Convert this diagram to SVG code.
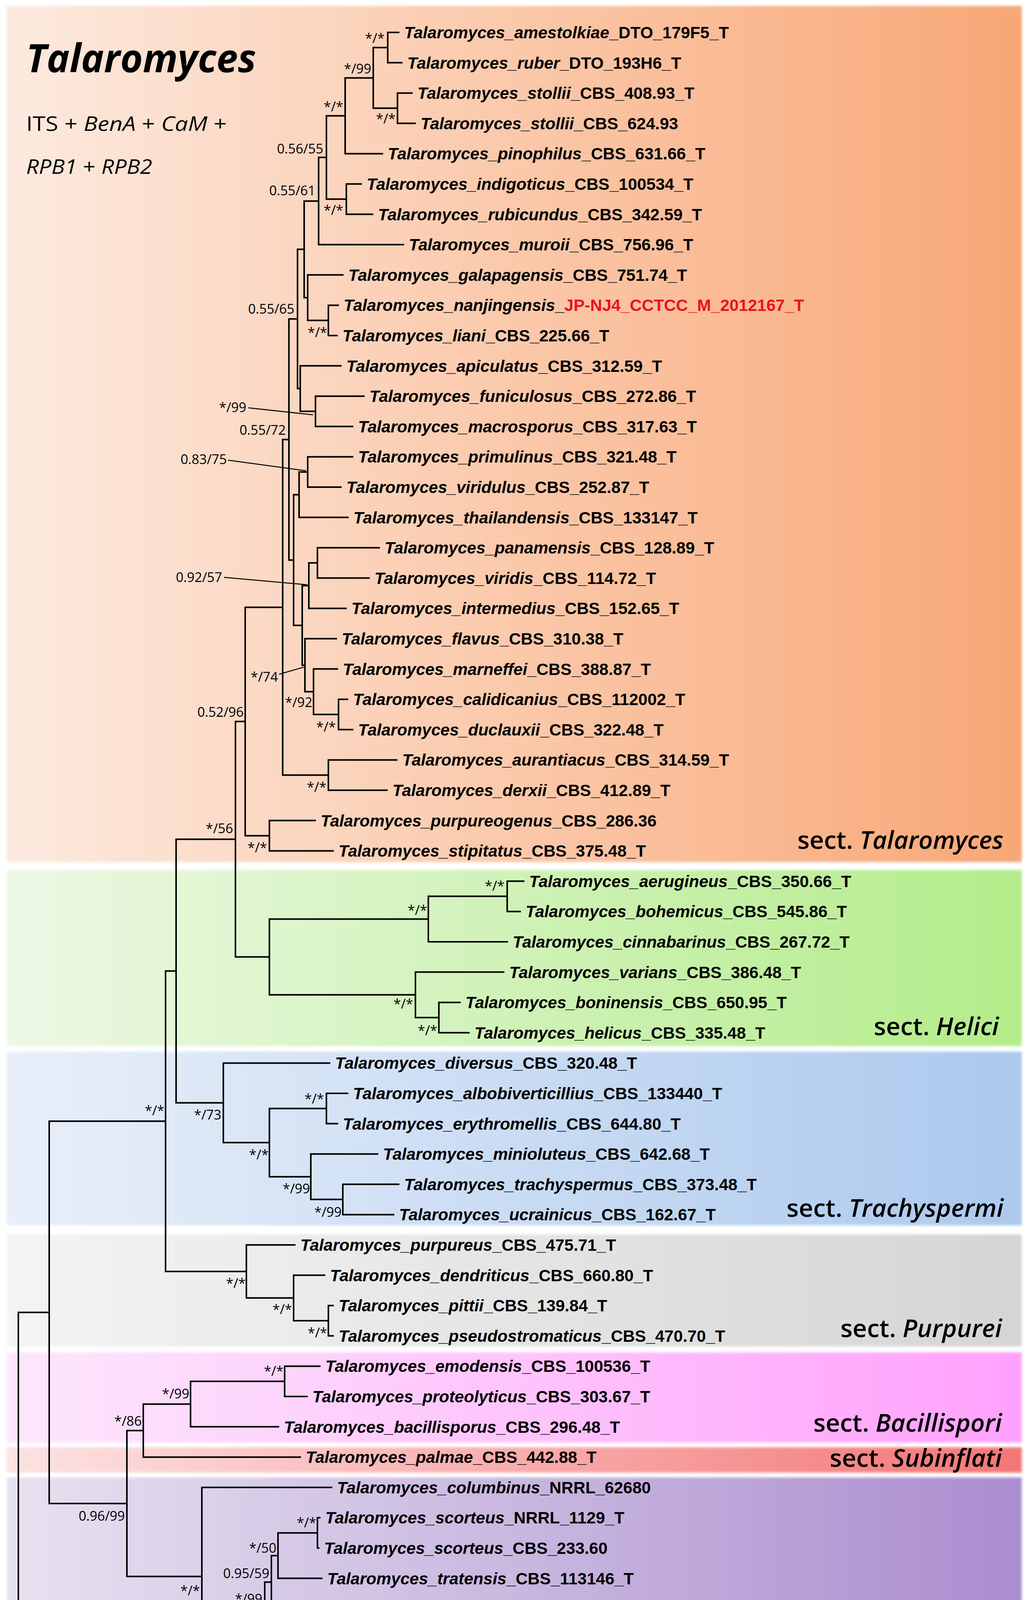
<svg xmlns="http://www.w3.org/2000/svg" width="2638" height="4954" viewBox="0 0 2638 4954">
<defs>
<linearGradient id="gTal" x1="0" y1="0" x2="1" y2="0"><stop offset="0" stop-color="#fdeadf"/><stop offset="1" stop-color="#f8a776"/></linearGradient>
<linearGradient id="gHel" x1="0" y1="0" x2="1" y2="0"><stop offset="0" stop-color="#edf8e5"/><stop offset="1" stop-color="#b3ec8a"/></linearGradient>
<linearGradient id="gTra" x1="0" y1="0" x2="1" y2="0"><stop offset="0" stop-color="#e9eff9"/><stop offset="1" stop-color="#abc9ee"/></linearGradient>
<linearGradient id="gPur" x1="0" y1="0" x2="1" y2="0"><stop offset="0" stop-color="#f4f4f4"/><stop offset="1" stop-color="#d5d5d5"/></linearGradient>
<linearGradient id="gBac" x1="0" y1="0" x2="1" y2="0"><stop offset="0" stop-color="#fde7fc"/><stop offset="1" stop-color="#ffa1fc"/></linearGradient>
<linearGradient id="gSub" x1="0" y1="0" x2="1" y2="0"><stop offset="0" stop-color="#fde3e3"/><stop offset="1" stop-color="#f47676"/></linearGradient>
<linearGradient id="gIsl" x1="0" y1="0" x2="1" y2="0"><stop offset="0" stop-color="#e7e2f0"/><stop offset="1" stop-color="#ab8dcf"/></linearGradient>
<filter id="soft" x="-0.01" y="-0.05" width="1.02" height="1.1"><feGaussianBlur stdDeviation="3"/></filter>
<style>
.br{stroke:#000;stroke-width:4;fill:none;stroke-linecap:square}
.ld{stroke:#000;stroke-width:2.5;fill:none}
.tip{font-family:"Liberation Sans",Arial,sans-serif;font-weight:bold;font-size:42.5px;fill:#000}
.sp{font-style:italic}
.red{fill:#e8141c}
.sup{font-family:"Open Sans","Liberation Sans",sans-serif;font-size:34px;fill:#000;text-anchor:end}
.sect{font-family:"Open Sans","Liberation Sans",sans-serif;font-size:64px;font-weight:600;fill:#000;text-anchor:end}
.it{font-style:italic}
</style>
</defs>
<rect width="2638" height="4954" fill="#fff"/>
<g id="sections" filter="url(#soft)">
<rect x="17" y="15" width="2600" height="2192" fill="url(#gTal)"/>
<rect x="17" y="2227" width="2600" height="451" fill="url(#gHel)"/>
<rect x="17" y="2692" width="2600" height="445" fill="url(#gTra)"/>
<rect x="17" y="3160" width="2600" height="287" fill="url(#gPur)"/>
<rect x="17" y="3462" width="2600" height="231" fill="url(#gBac)"/>
<rect x="17" y="3705" width="2600" height="65" fill="url(#gSub)"/>
<rect x="17" y="3782" width="2600" height="916" fill="url(#gIsl)"/>
</g>
<g id="section-labels">
<text class="sect" x="2570" y="2173">sect. <tspan class="it">Talaromyces</tspan></text>
<text class="sect" x="2558" y="2650">sect. <tspan class="it">Helici</tspan></text>
<text class="sect" x="2570" y="3115">sect. <tspan class="it">Trachyspermi</tspan></text>
<text class="sect" x="2566" y="3423">sect. <tspan class="it">Purpurei</tspan></text>
<text class="sect" x="2566" y="3665">sect. <tspan class="it">Bacillispori</tspan></text>
<text class="sect" x="2566" y="3755">sect. <tspan class="it">Subinflati</tspan></text>
<text class="sect" x="2553" y="4683">sect. <tspan class="it">Islandici</tspan></text>
</g>
<g id="title">
<text x="67" y="185" font-family="'Open Sans','Liberation Sans',sans-serif" font-size="100" font-weight="bold" font-style="italic" textLength="589" lengthAdjust="spacingAndGlyphs">Talaromyces</text>
<text x="67" y="335" font-family="'Open Sans','Liberation Sans',sans-serif" font-size="52" textLength="514" lengthAdjust="spacingAndGlyphs">ITS + <tspan class="it">BenA</tspan> + <tspan class="it">CaM</tspan> +</text>
<text x="67" y="445" font-family="'Open Sans','Liberation Sans',sans-serif" font-size="52" textLength="323" lengthAdjust="spacingAndGlyphs"><tspan class="it">RPB1</tspan> + <tspan class="it">RPB2</tspan></text>
</g>
<g id="connectors">
<path class="br" d="M993 83V160.6M993 83H1021M993 160.6H1029"/>
<path class="br" d="M1018 238.2V315.8M1018 238.2H1055M1018 315.8H1063"/>
<path class="br" d="M956 121.8V277M956 121.8H993M956 277H1018"/>
<path class="br" d="M884 199.4V393.4M884 199.4H956M884 393.4H979"/>
<path class="br" d="M887 471V548.6M887 471H925M887 548.6H954"/>
<path class="br" d="M836 296.4V509.8M836 296.4H884M836 509.8H887"/>
<path class="br" d="M816 403.1V626.2M816 403.1H836M816 626.2H1033"/>
<path class="br" d="M841 781.4V859M841 781.4H866M841 859H863"/>
<path class="br" d="M788 703.8V820.2M788 703.8H878M788 820.2H841"/>
<path class="br" d="M779 514.65V762M779 514.65H816M779 762H788"/>
<path class="br" d="M808 1014.2V1091.8M808 1014.2H932M808 1091.8H903"/>
<path class="br" d="M769 936.6V1053M769 936.6H873M769 1053H808"/>
<path class="br" d="M762 638.3V994.8M762 638.3H779M762 994.8H769"/>
<path class="br" d="M788 1169.4V1247M788 1169.4H903M788 1247H873"/>
<path class="br" d="M766 1208.2V1324.6M766 1208.2H788M766 1324.6H891"/>
<path class="br" d="M813 1402.2V1479.8M813 1402.2H971M813 1479.8H945"/>
<path class="br" d="M791 1441V1557.4M791 1441H813M791 1557.4H886"/>
<path class="br" d="M867 1790.2V1867.8M867 1790.2H890M867 1867.8H903"/>
<path class="br" d="M803 1712.6V1829M803 1712.6H864M803 1829H867"/>
<path class="br" d="M781 1635V1770.8M781 1635H861M781 1770.8H803"/>
<path class="br" d="M774 1499.2V1702.9M774 1499.2H791M774 1702.9H781"/>
<path class="br" d="M752 1266.4V1601.05M752 1266.4H766M752 1601.05H774"/>
<path class="br" d="M740 816.6V1433.7M740 816.6H762M740 1433.7H752"/>
<path class="br" d="M841 1945.4V2023M841 1945.4H1016M841 2023H991"/>
<path class="br" d="M724 1125.2V1984.2M724 1125.2H740M724 1984.2H841"/>
<path class="br" d="M690 2100.6V2178.2M690 2100.6H807M690 2178.2H853"/>
<path class="br" d="M628 1554.7V2139.4M628 1554.7H724M628 2139.4H690"/>
<path class="br" d="M1299 2255.8V2333.4M1299 2255.8H1341M1299 2333.4H1332"/>
<path class="br" d="M1097 2294.6V2411M1097 2294.6H1299M1097 2411H1299"/>
<path class="br" d="M1124 2566.2V2643.8M1124 2566.2H1178M1124 2643.8H1201"/>
<path class="br" d="M1064 2488.6V2605M1064 2488.6H1290M1064 2605H1124"/>
<path class="br" d="M690 2352.8V2546.8M690 2352.8H1097M690 2546.8H1064"/>
<path class="br" d="M603 1847V2449.8M603 1847H628M603 2449.8H690"/>
<path class="br" d="M836 2799V2876.6M836 2799H890M836 2876.6H864"/>
<path class="br" d="M878 3031.8V3109.4M878 3031.8H1021M878 3109.4H1008"/>
<path class="br" d="M796 2954.2V3070.6M796 2954.2H967M796 3070.6H878"/>
<path class="br" d="M690 2837.8V3012.4M690 2837.8H836M690 3012.4H796"/>
<path class="br" d="M572 2721.4V2925.1M572 2721.4H844M572 2925.1H690"/>
<path class="br" d="M451 2148.4V2823.25M451 2148.4H603M451 2823.25H572"/>
<path class="br" d="M841 3342.2V3419.8M841 3342.2H853M841 3419.8H853"/>
<path class="br" d="M752 3264.6V3381M752 3264.6H831M752 3381H841"/>
<path class="br" d="M631 3187V3322.8M631 3187H755M631 3322.8H752"/>
<path class="br" d="M424 2485.8V3254.9M424 2485.8H451M424 3254.9H631"/>
<path class="br" d="M729 3497.4V3575M729 3497.4H819M729 3575H786"/>
<path class="br" d="M488 3536.2V3652.6M488 3536.2H729M488 3652.6H713"/>
<path class="br" d="M367 3594.4V3730.2M367 3594.4H488M367 3730.2H769"/>
<path class="br" d="M813 3885.4V3963M813 3885.4H819M813 3963H816"/>
<path class="br" d="M712 3924.2V4040.6M712 3924.2H813M712 4040.6H824"/>
<path class="br" d="M695 3982.4V4118.2M695 3982.4H712M695 4118.2H806"/>
<path class="br" d="M678 4050.3V4195.8M678 4050.3H695M678 4195.8H794"/>
<path class="br" d="M825 4273.4V4351M825 4273.4H844M825 4351H853"/>
<path class="br" d="M745 4583.8V4661.4M745 4583.8H777M745 4661.4H802"/>
<path class="br" d="M725 4506.2V4622.6M725 4506.2H764M725 4622.6H745"/>
<path class="br" d="M707 4428.6V4564.4M707 4428.6H794M707 4564.4H725"/>
<path class="br" d="M668 4312.2V4496.5M668 4312.2H825M668 4496.5H707"/>
<path class="br" d="M619 4123.05V4404.35M619 4123.05H678M619 4404.35H668"/>
<path class="br" d="M517 3807.8V4263.7M517 3807.8H849M517 4263.7H619"/>
<path class="br" d="M325 3662.3V4035.75M325 3662.3H367M325 4035.75H517"/>
<path class="br" d="M126 2870.35V3849M126 2870.35H424M126 3849H325"/>
<path class="br" d="M47 3359.7V4739M47 3359.7H126M47 4739H1341"/>
<path class="ld" d="M636 1044L802 1062M584 1178L783 1205M574 1478L787 1497M715 1726L778 1708"/>
</g>
<g id="support" class="sup">
<text x="985" y="110">*/*</text>
<text x="951" y="188">*/99</text>
<text x="1013" y="316">*/*</text>
<text x="879" y="285">*/*</text>
<text x="828" y="393">0.56/55</text>
<text x="879" y="550">*/*</text>
<text x="808" y="500">0.55/61</text>
<text x="838" y="863">*/*</text>
<text x="754" y="803">0.55/65</text>
<text x="631" y="1055">*/99</text>
<text x="732" y="1113">0.55/72</text>
<text x="581" y="1188">0.83/75</text>
<text x="569" y="1490">0.92/57</text>
<text x="712" y="1745">*/74</text>
<text x="800" y="1810">*/92</text>
<text x="860" y="1873">*/*</text>
<text x="624" y="1835">0.52/96</text>
<text x="836" y="2027">*/*</text>
<text x="597" y="2133">*/56</text>
<text x="684" y="2182">*/*</text>
<text x="1292" y="2280">*/*</text>
<text x="1094" y="2342">*/*</text>
<text x="1058" y="2582">*/*</text>
<text x="1120" y="2650">*/*</text>
<text x="830" y="2825">*/*</text>
<text x="567" y="2866">*/73</text>
<text x="421" y="2855">*/*</text>
<text x="688" y="2968">*/*</text>
<text x="794" y="3055">*/99</text>
<text x="875" y="3115">*/99</text>
<text x="629" y="3297">*/*</text>
<text x="748" y="3364">*/*</text>
<text x="838" y="3424">*/*</text>
<text x="726" y="3522">*/*</text>
<text x="485" y="3580">*/99</text>
<text x="363" y="3650">*/86</text>
<text x="320" y="3893">0.96/99</text>
<text x="810" y="3910">*/*</text>
<text x="708" y="3975">*/50</text>
<text x="690" y="4040">0.95/59</text>
<text x="672" y="4105">*/99</text>
<text x="512" y="4084">*/*</text>
<text x="612" y="4312">*/*</text>
<text x="818" y="4300">*/*</text>
<text x="660" y="4450">*/99</text>
<text x="700" y="4540">*/99</text>
<text x="722" y="4608">*/99</text>
</g>
<g id="tips" class="tip">
<g id="t01"><text x="1035" y="98"><tspan class="sp">Talaromyces_amestolkiae</tspan>_DTO_179F5_T</text></g>
<g id="t02"><text x="1043" y="175.6"><tspan class="sp">Talaromyces_ruber</tspan>_DTO_193H6_T</text></g>
<g id="t03"><text x="1069" y="253.2"><tspan class="sp">Talaromyces_stollii</tspan>_CBS_408.93_T</text></g>
<g id="t04"><text x="1077" y="330.8"><tspan class="sp">Talaromyces_stollii</tspan>_CBS_624.93</text></g>
<g id="t05"><text x="993" y="408.4"><tspan class="sp">Talaromyces_pinophilus</tspan>_CBS_631.66_T</text></g>
<g id="t06"><text x="939" y="486"><tspan class="sp">Talaromyces_indigoticus</tspan>_CBS_100534_T</text></g>
<g id="t07"><text x="968" y="563.6"><tspan class="sp">Talaromyces_rubicundus</tspan>_CBS_342.59_T</text></g>
<g id="t08"><text x="1047" y="641.2"><tspan class="sp">Talaromyces_muroii</tspan>_CBS_756.96_T</text></g>
<g id="t09"><text x="892" y="718.8"><tspan class="sp">Talaromyces_galapagensis</tspan>_CBS_751.74_T</text></g>
<g id="t10"><text x="880" y="796.4"><tspan class="sp">Talaromyces_nanjingensis</tspan>_<tspan class="red">JP-NJ4_CCTCC_M_2012167_T</tspan></text></g>
<g id="t11"><text x="877" y="874"><tspan class="sp">Talaromyces_liani</tspan>_CBS_225.66_T</text></g>
<g id="t12"><text x="887" y="951.6"><tspan class="sp">Talaromyces_apiculatus</tspan>_CBS_312.59_T</text></g>
<g id="t13"><text x="946" y="1029.2"><tspan class="sp">Talaromyces_funiculosus</tspan>_CBS_272.86_T</text></g>
<g id="t14"><text x="917" y="1106.8"><tspan class="sp">Talaromyces_macrosporus</tspan>_CBS_317.63_T</text></g>
<g id="t15"><text x="917" y="1184.4"><tspan class="sp">Talaromyces_primulinus</tspan>_CBS_321.48_T</text></g>
<g id="t16"><text x="887" y="1262"><tspan class="sp">Talaromyces_viridulus</tspan>_CBS_252.87_T</text></g>
<g id="t17"><text x="905" y="1339.6"><tspan class="sp">Talaromyces_thailandensis</tspan>_CBS_133147_T</text></g>
<g id="t18"><text x="985" y="1417.2"><tspan class="sp">Talaromyces_panamensis</tspan>_CBS_128.89_T</text></g>
<g id="t19"><text x="959" y="1494.8"><tspan class="sp">Talaromyces_viridis</tspan>_CBS_114.72_T</text></g>
<g id="t20"><text x="900" y="1572.4"><tspan class="sp">Talaromyces_intermedius</tspan>_CBS_152.65_T</text></g>
<g id="t21"><text x="875" y="1650"><tspan class="sp">Talaromyces_flavus</tspan>_CBS_310.38_T</text></g>
<g id="t22"><text x="878" y="1727.6"><tspan class="sp">Talaromyces_marneffei</tspan>_CBS_388.87_T</text></g>
<g id="t23"><text x="904" y="1805.2"><tspan class="sp">Talaromyces_calidicanius</tspan>_CBS_112002_T</text></g>
<g id="t24"><text x="917" y="1882.8"><tspan class="sp">Talaromyces_duclauxii</tspan>_CBS_322.48_T</text></g>
<g id="t25"><text x="1030" y="1960.4"><tspan class="sp">Talaromyces_aurantiacus</tspan>_CBS_314.59_T</text></g>
<g id="t26"><text x="1005" y="2038"><tspan class="sp">Talaromyces_derxii</tspan>_CBS_412.89_T</text></g>
<g id="t27"><text x="821" y="2115.6"><tspan class="sp">Talaromyces_purpureogenus</tspan>_CBS_286.36</text></g>
<g id="t28"><text x="867" y="2193.2"><tspan class="sp">Talaromyces_stipitatus</tspan>_CBS_375.48_T</text></g>
<g id="t29"><text x="1355" y="2270.8"><tspan class="sp">Talaromyces_aerugineus</tspan>_CBS_350.66_T</text></g>
<g id="t30"><text x="1346" y="2348.4"><tspan class="sp">Talaromyces_bohemicus</tspan>_CBS_545.86_T</text></g>
<g id="t31"><text x="1313" y="2426"><tspan class="sp">Talaromyces_cinnabarinus</tspan>_CBS_267.72_T</text></g>
<g id="t32"><text x="1304" y="2503.6"><tspan class="sp">Talaromyces_varians</tspan>_CBS_386.48_T</text></g>
<g id="t33"><text x="1192" y="2581.2"><tspan class="sp">Talaromyces_boninensis</tspan>_CBS_650.95_T</text></g>
<g id="t34"><text x="1215" y="2658.8"><tspan class="sp">Talaromyces_helicus</tspan>_CBS_335.48_T</text></g>
<g id="t35"><text x="858" y="2736.4"><tspan class="sp">Talaromyces_diversus</tspan>_CBS_320.48_T</text></g>
<g id="t36"><text x="904" y="2814"><tspan class="sp">Talaromyces_albobiverticillius</tspan>_CBS_133440_T</text></g>
<g id="t37"><text x="878" y="2891.6"><tspan class="sp">Talaromyces_erythromellis</tspan>_CBS_644.80_T</text></g>
<g id="t38"><text x="981" y="2969.2"><tspan class="sp">Talaromyces_minioluteus</tspan>_CBS_642.68_T</text></g>
<g id="t39"><text x="1035" y="3046.8"><tspan class="sp">Talaromyces_trachyspermus</tspan>_CBS_373.48_T</text></g>
<g id="t40"><text x="1022" y="3124.4"><tspan class="sp">Talaromyces_ucrainicus</tspan>_CBS_162.67_T</text></g>
<g id="t41"><text x="769" y="3202"><tspan class="sp">Talaromyces_purpureus</tspan>_CBS_475.71_T</text></g>
<g id="t42"><text x="845" y="3279.6"><tspan class="sp">Talaromyces_dendriticus</tspan>_CBS_660.80_T</text></g>
<g id="t43"><text x="867" y="3357.2"><tspan class="sp">Talaromyces_pittii</tspan>_CBS_139.84_T</text></g>
<g id="t44"><text x="867" y="3434.8"><tspan class="sp">Talaromyces_pseudostromaticus</tspan>_CBS_470.70_T</text></g>
<g id="t45"><text x="833" y="3512.4"><tspan class="sp">Talaromyces_emodensis</tspan>_CBS_100536_T</text></g>
<g id="t46"><text x="800" y="3590"><tspan class="sp">Talaromyces_proteolyticus</tspan>_CBS_303.67_T</text></g>
<g id="t47"><text x="727" y="3667.6"><tspan class="sp">Talaromyces_bacillisporus</tspan>_CBS_296.48_T</text></g>
<g id="t48"><text x="783" y="3745.2"><tspan class="sp">Talaromyces_palmae</tspan>_CBS_442.88_T</text></g>
<g id="t49"><text x="863" y="3822.8"><tspan class="sp">Talaromyces_columbinus</tspan>_NRRL_62680</text></g>
<g id="t50"><text x="833" y="3900.4"><tspan class="sp">Talaromyces_scorteus</tspan>_NRRL_1129_T</text></g>
<g id="t51"><text x="830" y="3978"><tspan class="sp">Talaromyces_scorteus</tspan>_CBS_233.60</text></g>
<g id="t52"><text x="838" y="4055.6"><tspan class="sp">Talaromyces_tratensis</tspan>_CBS_113146_T</text></g>
<g id="t53"><text x="820" y="4133.2"><tspan class="sp">Talaromyces_rugulosus</tspan>_CBS_371.48_T</text></g>
<g id="t54"><text x="808" y="4210.8"><tspan class="sp">Talaromyces_tardifaciens</tspan>_CBS_250.94_T</text></g>
<g id="t55"><text x="858" y="4288.4"><tspan class="sp">Talaromyces_wortmannii</tspan>_CBS_391.48_T</text></g>
<g id="t56"><text x="867" y="4366"><tspan class="sp">Talaromyces_wortmannii</tspan>_NRRL_1048</text></g>
<g id="t57"><text x="808" y="4443.6"><tspan class="sp">Talaromyces_allahabadensis</tspan>_CBS_453.93_T</text></g>
<g id="t58"><text x="778" y="4521.2"><tspan class="sp">Talaromyces_loliensis</tspan>_CBS_643.80_T</text></g>
<g id="t59"><text x="791" y="4598.8"><tspan class="sp">Talaromyces_brunneus</tspan>_CBS_227.60_T</text></g>
<g id="t60"><text x="816" y="4676.4"><tspan class="sp">Talaromyces_islandicus</tspan>_CBS_338.48_T</text></g>
<g id="t61"><text x="1355" y="4754"><tspan class="sp">Trichocoma_paradoxa</tspan>_CBS_788.83_T</text></g>
</g>
<g id="scale-bar">
<path class="br" d="M207 4850H488"/>
<path d="M207 4835V4866M488 4835V4866" stroke="#000" stroke-width="2.5"/>
<text x="345" y="4929" text-anchor="middle" font-family="'Open Sans','Liberation Sans',sans-serif" font-size="33">0.10</text>
</g>
</svg>
